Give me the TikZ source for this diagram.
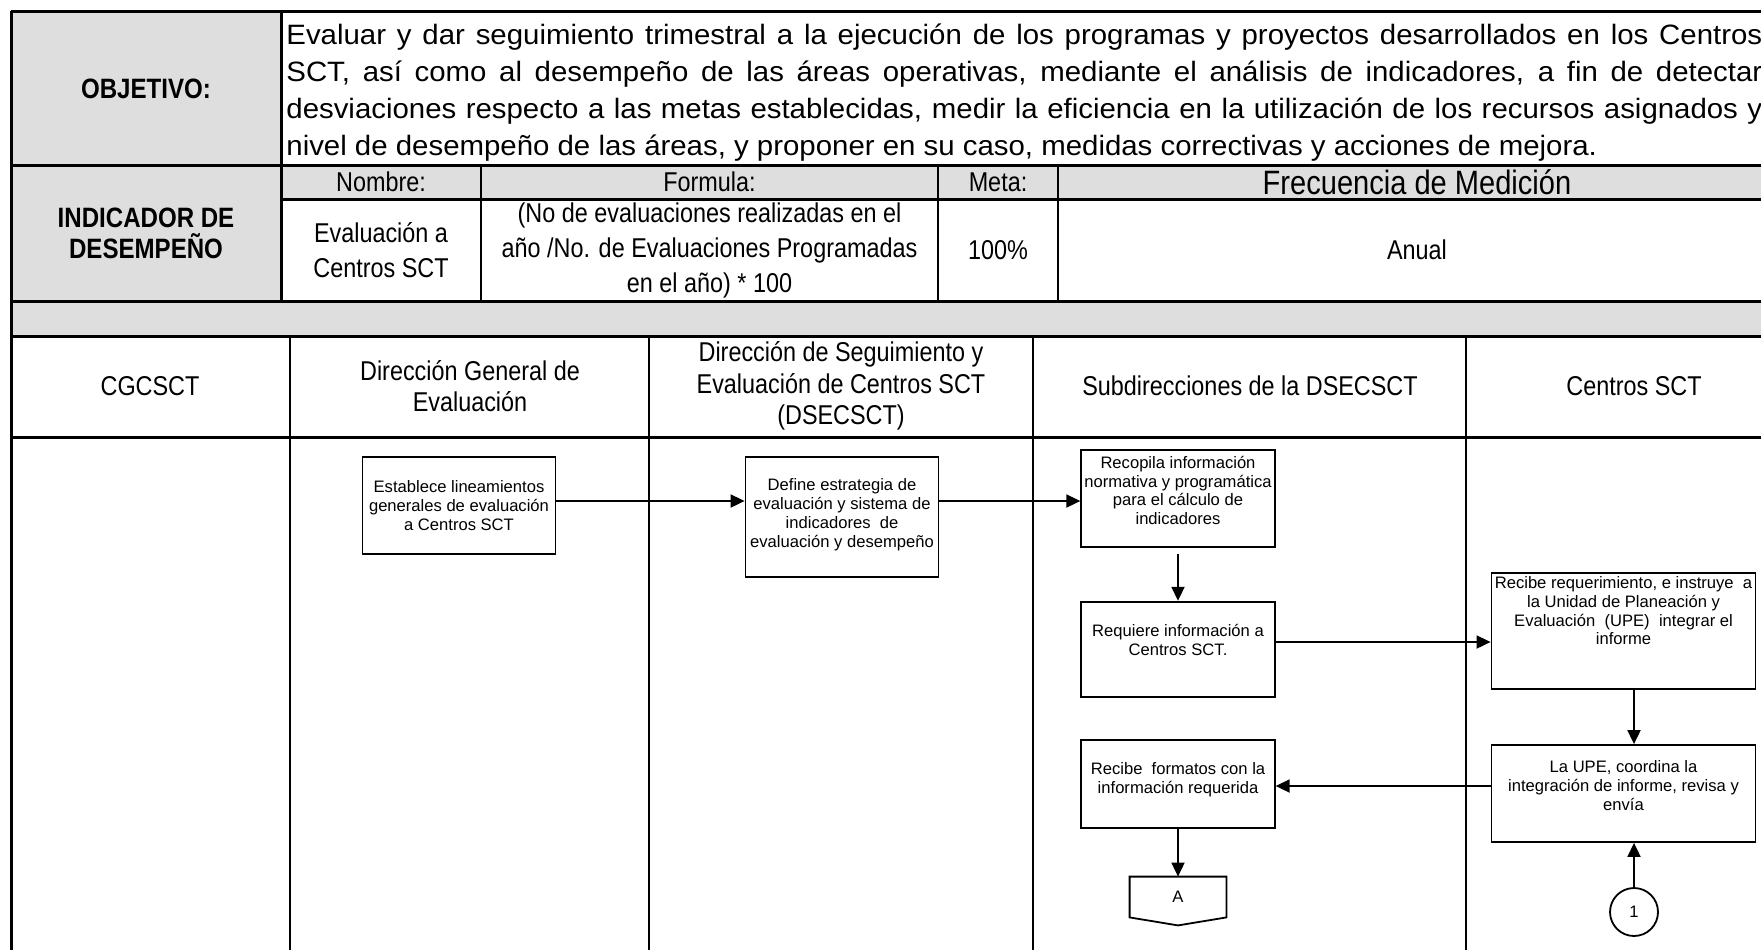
\documentclass[tikz,border=0pt]{standalone}
\usepackage{fontspec}
\setmainfont{Liberation Sans}
\newfontfamily\nar[FakeStretch=0.86]{Liberation Sans}
\newfontfamily\wid[FakeStretch=1.05]{Liberation Sans}
\usetikzlibrary{arrows.meta,calc}
\definecolor{cg}{HTML}{DEDEDE}
\newcommand\bxt[4]{\parbox[c][#2][c]{#1}{\centering #4\par\vspace*{#3}}}
\tikzset{
 tk/.style={line width=1.5pt},
 md/.style={line width=1pt},
 tn/.style={line width=0.75pt},
 hdr/.style={inner sep=0, align=center, font=\nar\fontsize{13.6}{15.75}\selectfont},
 hb/.style={inner sep=0, align=center, font=\nar\bfseries\fontsize{14}{15.5}\selectfont},
 val/.style={inner sep=0, align=center, font=\nar\fontsize{13.6}{17.5}\selectfont},
 ol/.style={inner sep=0, anchor=base west, font=\wid\fontsize{14}{18.5}\selectfont},
 bx/.style={draw, line width=0.9pt, fill=white, inner sep=0, font=\fontsize{8.3}{9.35}\selectfont},
 arr/.style={line width=0.9pt, -{Triangle[length=7pt,width=6.5pt]}},
}
\begin{document}
\begin{tikzpicture}[x=0.5pt,y=-0.5pt]
\useasboundingbox (0,0) rectangle (1761,949);
\begin{scope}
\clip (0,0) rectangle (1761,949);
% fills
\fill[cg] (11,11) rectangle (281,301);
\fill[cg] (281,165) rectangle (1776,199);
\fill[cg] (11,301) rectangle (1802,336);
% top table lines
\draw[tk] (11,11) -- (1776,11);
\draw[tk] (11,11) -- (11,960);
\draw[tk] (281,11) -- (281,301);
\draw[tk] (11,165) -- (1776,165);
\draw[tk] (281,199) -- (1776,199);
\draw[tk] (11,301) -- (1802,301);
\draw[md] (481,165) -- (481,301);
\draw[md] (938,165) -- (938,301);
\draw[md] (1058,165) -- (1058,301);
\draw[tk] (1776,11) -- (1776,301);
% lanes
\draw[tk] (11,336) -- (1802,336);
\draw[tk] (11,437) -- (1802,437);
\foreach \xx in {290,649,1033,1466,1802} \draw[tn] (\xx,336) -- (\xx,960);

% header texts
\node[hb] (obj) at (146,89) {OBJETIVO:};
\node[hb] (ind) at (146,233) {INDICADOR DE\\DESEMPEÑO};
\node[ol] (o1) at (286,44) {\makebox[738pt][s]{Evaluar y dar seguimiento trimestral a la ejecución de los programas y proyectos desarrollados en los Centros}};
\node[ol] (o2) at (286,81.5) {\makebox[738pt][s]{SCT, así como al desempeño de las áreas operativas, mediante el análisis de indicadores, a fin de detectar}};
\node[ol] (o3) at (286,118.5) {\makebox[738pt][s]{desviaciones respecto a las metas establecidas, medir la eficiencia en la utilización de los recursos asignados y}};
\node[ol] (o4) at (286,155.5) {nivel de desempeño de las áreas, y proponer en su caso, medidas correctivas y acciones de mejora.};

\node[hdr] (hn) at (381,182) {Nombre:};
\node[hdr] (hf) at (709.5,182) {Formula:};
\node[hdr] (hm) at (998,182) {Meta:};
\node[hdr, font=\nar\fontsize{16.9}{18}\selectfont] (hq) at (1417,182) {Frecuencia de Medición};
\node[val] (vn) at (381,250) {Evaluación a\\Centros SCT};
\node[val] (vf) at (709.5,250) {(No de evaluaciones realizadas en el\\año /No. de Evaluaciones Programadas\\en el año) * 100};
\node[val] (vm) at (998,250) {100\%};
\node[val] (vq) at (1417,250) {Anual};

\node[hdr] (l1) at (150,386) {CGCSCT};
\node[hdr] (l2) at (470,386) {Dirección General de\\Evaluación};
\node[hdr] (l3) at (841,386) {Dirección de Seguimiento y\\Evaluación de Centros SCT\\(DSECSCT)};
\node[hdr] (l4) at (1250,386) {Subdirecciones de la DSECSCT};
\node[hdr] (l5) at (1634,386) {Centros SCT};

% boxes
\node[bx] (est) at (459,505.4) {\bxt{96.5pt}{48.6pt}{0pt}{Establece lineamientos\\generales de evaluación\\a Centros SCT}};
\node[bx] (def) at (842,516.7) {\bxt{96.5pt}{60pt}{2pt}{Define estrategia de\\evaluación y sistema de\\indicadores \ de\\evaluación y desempeño}};
\node[bx] (rec) at (1178,498.4) {\bxt{96.75pt}{48.35pt}{8pt}{Recopila información\\normativa y programática\\para el cálculo de\\indicadores}};
\node[bx] (req) at (1178,649.2) {\bxt{96.75pt}{47.5pt}{9pt}{Requiere información a\\Centros SCT.}};
\node[bx] (rf) at (1178,784) {\bxt{96.75pt}{44pt}{4pt}{Recibe \ formatos con la\\información requerida}};
\node[bx] (rr) at (1623.5,631) {\bxt{132pt}{58pt}{20pt}{Recibe requerimiento, e instruye \ a\\la Unidad de Planeación y\\Evaluación \ (UPE) \ integrar el\\informe}};
\node[bx] (upe) at (1623.5,793.5) {\bxt{132pt}{48.5pt}{8pt}{La UPE, coordina la\\integración de informe, revisa y\\envía}};
\node[inner sep=0, minimum width=48pt, minimum height=20pt, font=\fontsize{8.3}{9.35}\selectfont] (A) at (1178,897) {A};
\draw[line width=0.9pt] (A.north west) -- (A.north east) -- (A.south east) -- ($(A.south)+(0,8)$) -- (A.south west) -- cycle;
\node[draw, circle, line width=0.9pt, minimum size=24pt, inner sep=0, font=\fontsize{8.3}{9.35}\selectfont] (c1) at (1634,912) {1};

% connectors
\coordinate (ya) at (0,501);
\coordinate (yb) at (0,642);
\coordinate (yc) at (0,786);
\draw[arr] (est.east |- ya) -- (def.west |- ya);
\draw[arr] (def.east |- ya) -- (rec.west |- ya);
\draw[arr, shorten <=3pt] (rec.south) -- (req.north);
\draw[arr] (req.east |- yb) -- (rr.west |- yb);
\draw[arr] (rr.south -| c1) -- (upe.north -| c1);
\draw[arr] (upe.west |- yc) -- (rf.east |- yc);
\draw[arr] (rf.south) -- (A.north);
\draw[arr] (c1.north) -- (c1.north |- upe.south);
\end{scope}
\end{tikzpicture}
\end{document}
